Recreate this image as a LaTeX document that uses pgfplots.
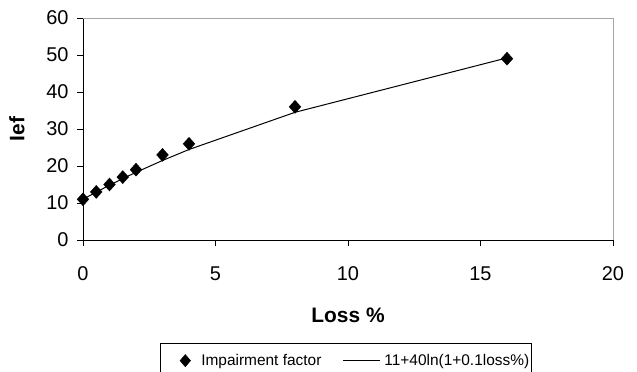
\documentclass[border=0pt]{standalone}
\usepackage{pgfplots}
\pgfplotsset{compat=1.18}
\usepackage{fontspec}
\setmainfont{Liberation Sans}
\begin{document}
\begin{tikzpicture}
\begin{axis}[
  scale only axis,
  width=530bp, height=222bp,
  xmin=0, xmax=20, ymin=0, ymax=60,
  xtick={0,5,10,15,20}, ytick={0,10,20,30,40,50,60},
  axis lines=left,
  axis line style={-, black, line width=0.8bp},
  tick style={black, line width=0.8bp},
  tick align=outside,
  major tick length=6bp,
  /pgf/number format/assume math mode=true,
  ticklabel style={font=\fontsize{20}{22}\selectfont},
  xticklabel style={yshift=-17bp},
  yticklabel style={xshift=-5bp},
  xlabel={\textbf{Loss \%}},
  ylabel={\textbf{Ief}},
  label style={font=\fontsize{21}{24}\selectfont},
  xlabel style={at={(axis description cs:0.5,0)}, anchor=center, yshift=-75bp},
  ylabel style={at={(axis description cs:-0.1245,0.5)}, anchor=center},
  legend columns=2,
  legend style={at={(axis description cs:0.1453,-0.464)}, anchor=north west,
    draw=black, line width=0.6bp, font=\fontsize{15.5}{18}\selectfont,
    inner xsep=0bp, inner ysep=9bp,
    /tikz/every even column/.append style={column sep=19bp},
    /tikz/every odd column/.append style={column sep=2bp}},
  legend cell align=left,
  clip=false,
]
\draw[gray!70, line width=0.8bp] (rel axis cs:0,1) -- (rel axis cs:1,1) -- (rel axis cs:1,0);
\addplot[only marks, mark=diamond*, mark size=6.5bp, mark options={fill=black, draw=black, xscale=1.2},
  legend image code/.code={\path[draw=none, fill=none] (-25bp,0bp) -- (12bp,0bp); \path[draw=black, fill=black, mark=diamond*, mark size=6bp, mark options={xscale=1.15}] plot coordinates {(0bp,0bp)};}]
  coordinates {(0,11) (0.5,13) (1,15) (1.5,17) (2,19) (3,23) (4,26) (8,36) (16,49)};
\addlegendentry{Impairment factor}
\addplot[black, line width=1bp, no marks,
  legend image code/.code={\draw[black, line width=1bp] (0bp,0bp) -- (37bp,0bp);}]
  coordinates {(0,11) (0.5,12.95) (1,14.81) (1.5,16.59) (2,18.29) (3,21.49) (4,24.46) (8,34.51) (16,49.22)};
\addlegendentry{11+40ln(1+0.1loss\%)}
\end{axis}
\pgfresetboundingbox
\path (current axis.south west) ++(-83bp,-132bp) rectangle ++(637bp,372bp);
\end{tikzpicture}
\end{document}
